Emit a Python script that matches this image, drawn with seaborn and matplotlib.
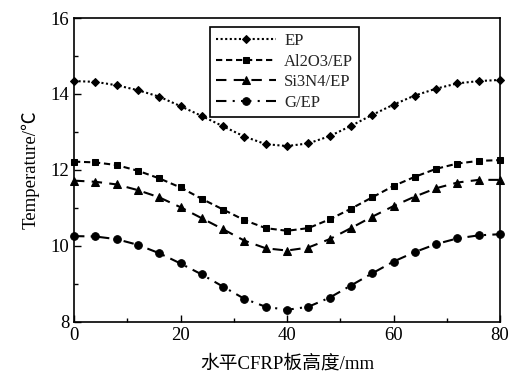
import numpy as np
import pandas as pd
import matplotlib
matplotlib.use("Agg")
import matplotlib.pyplot as plt
from matplotlib.ticker import MultipleLocator
import seaborn as sns

# Position along the horizontal CFRP plate (mm)
height_mm = [0, 4, 8, 12, 16, 20, 24, 28, 32, 36, 40, 44, 48, 52, 56, 60, 64, 68, 72, 76, 80]

# Temperature profiles (°C)
temp_ep = [14.34, 14.32, 14.23, 14.10, 13.93, 13.68, 13.42, 13.15, 12.88, 12.68, 12.63,
           12.70, 12.89, 13.16, 13.45, 13.72, 13.96, 14.14, 14.28, 14.34, 14.37]
temp_al2o3 = [12.22, 12.20, 12.13, 11.98, 11.78, 11.54, 11.24, 10.96, 10.68, 10.47, 10.40,
              10.47, 10.70, 10.98, 11.28, 11.58, 11.82, 12.03, 12.17, 12.24, 12.26]
temp_si3n4 = [11.72, 11.69, 11.62, 11.47, 11.28, 11.02, 10.73, 10.44, 10.14, 9.94, 9.88,
              9.96, 10.18, 10.47, 10.77, 11.05, 11.30, 11.52, 11.67, 11.74, 11.74]
temp_g = [10.26, 10.25, 10.18, 10.03, 9.81, 9.54, 9.25, 8.93, 8.61, 8.40, 8.32,
          8.40, 8.64, 8.96, 9.28, 9.59, 9.84, 10.05, 10.20, 10.28, 10.31]

series_names = ["EP", "Al2O3/EP", "Si3N4/EP", "G/EP"]
series_values = [temp_ep, temp_al2o3, temp_si3n4, temp_g]

df = pd.concat(
    [pd.DataFrame({"x": height_mm, "T": vals, "series": name})
     for name, vals in zip(series_names, series_values)],
    ignore_index=True,
)

sns.set_theme(style="ticks")
plt.rcParams["font.family"] = ["Liberation Serif", "Noto Sans CJK SC"]

fig = plt.figure(figsize=(5.19, 3.83), dpi=100)
ax = fig.add_axes([0.1426, 0.1593, 0.8208, 0.7937])

dashes = {"EP": (1, 1.2), "Al2O3/EP": (3, 1.8), "Si3N4/EP": (5, 3.5), "G/EP": (5, 3, 1, 3)}
markers = {"EP": "D", "Al2O3/EP": "s", "Si3N4/EP": "^", "G/EP": "o"}
sizes_ms = {"EP": 4.2, "Al2O3/EP": 4.2, "Si3N4/EP": 5.8, "G/EP": 5.5}

for name in series_names:
    sub = df[df["series"] == name]
    sns.lineplot(data=sub, x="x", y="T", ax=ax, color="black", label=name,
                 linewidth=1.5, marker=markers[name], markersize=sizes_ms[name],
                 markeredgecolor="black", dashes=dashes[name])
for line, name in zip(ax.get_lines(), series_names):
    line.set_dashes(dashes[name])
    line.set_clip_on(False)

ax.set_xlim(0, 80)
ax.set_ylim(8, 16)
ax.xaxis.set_major_locator(MultipleLocator(20))
ax.xaxis.set_minor_locator(MultipleLocator(10))
ax.yaxis.set_major_locator(MultipleLocator(2))
ax.yaxis.set_minor_locator(MultipleLocator(1))
ax.tick_params(which="both", direction="in", top=False, right=False,
               labelsize=13.5, colors="black", width=1.0)
ax.tick_params(which="major", length=5)
ax.tick_params(which="minor", length=3)
for s in ax.spines.values():
    s.set_color("black")
    s.set_linewidth(1.2)

ax.set_xlabel("水平CFRP板高度/mm", fontsize=13.5, color="black", labelpad=8)
ax.set_ylabel("Temperature/℃", fontsize=13.5, color="black", labelpad=8)

leg = ax.legend(loc="upper left", bbox_to_anchor=(0.319, 0.970), borderaxespad=0,
                fontsize=12, frameon=True, fancybox=False, edgecolor="black",
                framealpha=1, handlelength=3.6, borderpad=0.35, labelspacing=0.28,
                handletextpad=0.5)
leg.get_frame().set_linewidth(1.2)

fig.savefig("out.png", dpi=100)
